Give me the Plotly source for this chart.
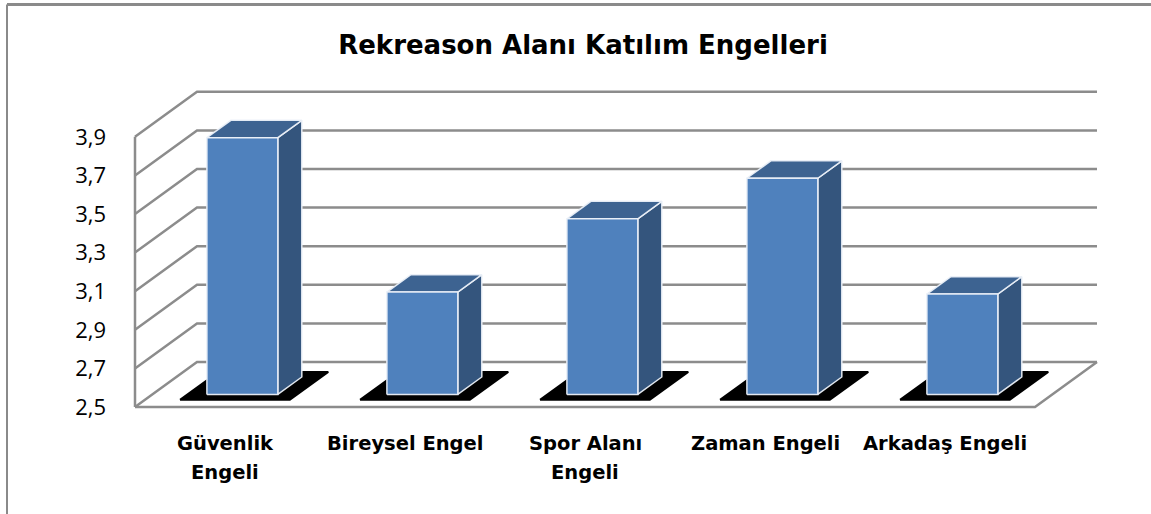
import plotly.graph_objects as go

# ---------------- data ----------------
categories = ["Güvenlik\nEngeli", "Bireysel Engel", "Spor Alanı\nEngeli", "Zaman Engeli", "Arkadaş Engeli"]
values = [3.83, 3.03, 3.41, 3.62, 3.02]
tick_vals = [2.5, 2.7, 2.9, 3.1, 3.3, 3.5, 3.7, 3.9]
title_text = "Rekreason Alanı Katılım Engelleri"

# ---------------- geometry (pixel mapping of the oblique projection) ----------------
W, H = 1151, 514
PX_X = 180.0          # pixels per category
PX_Y = 193.0          # pixels per value unit
X0_PX = 225.0         # pixel x of category 0 on front plane
Y0_PX = 407.0         # pixel y of base value on front plane
BASE = tick_vals[0]
DX = 62.0 / PX_X      # depth offset (x units) at full depth
DY = 45.0 / PX_Y      # depth offset (value units) at full depth

L_PX, R_PX, T_PX, B_PX = 133, 1131, 60, 420
xmin = (L_PX - X0_PX) / PX_X
xmax = (R_PX - X0_PX) / PX_X
ymax = BASE + (Y0_PX - T_PX) / PX_Y
ymin = BASE + (Y0_PX - B_PX) / PX_Y

n = len(categories)
xl, xr = -0.5, n - 0.5
top = tick_vals[-1]

GRID = "#8c8c8c"
FRONT = "#4f81bd"
TOPC = "#3d6391"
SIDE = "#34557d"
EDGE = "rgba(235,240,248,0.95)"
FONT = "Open Sans"
BOLDFONT = "DejaVu Sans"

fig = go.Figure()

def poly(xs, ys, fill, line_color, lw):
    fig.add_trace(go.Scatter(x=xs + [xs[0]], y=ys + [ys[0]], mode="lines", fill="toself",
                             fillcolor=fill, line=dict(color=line_color, width=lw),
                             hoverinfo="skip", showlegend=False))

# back-wall gridlines with left-wall diagonals
gx, gy = [], []
for v in tick_vals:
    gx += [xl, xl + DX, xr + DX, None]
    gy += [v, v + DY, v + DY, None]
fig.add_trace(go.Scatter(x=gx, y=gy, mode="lines", line=dict(color=GRID, width=2.5),
                         hoverinfo="skip", showlegend=False))
# floor outline and left front edge
fx = [xl, xl, None, xl, xr, xr + DX]
fy = [top, BASE, None, BASE, BASE, BASE + DY]
fig.add_trace(go.Scatter(x=fx, y=fy, mode="lines", line=dict(color=GRID, width=2.5),
                         hoverinfo="skip", showlegend=False))

# shadows
s_f, s_b, s_w = 0.16, 0.78, 0.305
for i in range(n):
    xs = [i + s_f * DX - s_w, i + s_f * DX + s_w, i + s_b * DX + s_w, i + s_b * DX - s_w]
    ys = [BASE + s_f * DY, BASE + s_f * DY, BASE + s_b * DY, BASE + s_b * DY]
    poly(xs, ys, "black", "black", 2)

# bars
d_f, d_b, hw = 0.28, 0.667, 0.197
for i, v in enumerate(values):
    xf0, xf1 = i + d_f * DX - hw, i + d_f * DX + hw
    xb0, xb1 = i + d_b * DX - hw, i + d_b * DX + hw
    yf0, yf1 = BASE + d_f * DY, v + d_f * DY
    yb0, yb1 = BASE + d_b * DY, v + d_b * DY
    poly([xf1, xf1, xb1, xb1], [yf0, yf1, yb1, yb0], SIDE, EDGE, 1.5)
    poly([xf0, xf1, xb1, xb0], [yf1, yf1, yb1, yb1], TOPC, EDGE, 1.5)
    poly([xf0, xf1, xf1, xf0], [yf0, yf0, yf1, yf1], FRONT, EDGE, 1.5)

# category labels
LINE_GAP = 29
for i, c in enumerate(categories):
    for k, line in enumerate(c.split("\n")):
        fig.add_annotation(x=i, y=0, xref="x", yref="paper", text="<b>%s</b>" % line,
                           showarrow=False, yanchor="middle", xanchor="center",
                           yshift=-(23 + LINE_GAP * k),
                           font=dict(family=BOLDFONT, size=19.5, color="black"))

# chart border (paper coords from pixels): left and top edges visible in the frame
pw = R_PX - L_PX
ph = B_PX - T_PX
def px2paper_x(p):
    return (p - L_PX) / pw
def px2paper_y(p):
    return (B_PX - p) / ph
bx0, by0 = px2paper_x(7), px2paper_y(4.5)
fig.add_shape(type="line", xref="paper", yref="paper",
              x0=bx0, x1=px2paper_x(1160), y0=by0, y1=by0,
              line=dict(color="#8a8a8a", width=3), layer="above")
fig.add_shape(type="line", xref="paper", yref="paper",
              x0=bx0, x1=bx0, y0=by0, y1=px2paper_y(530),
              line=dict(color="#8a8a8a", width=2), layer="above")

fig.update_layout(
    width=W, height=H,
    margin=dict(l=L_PX, r=W - R_PX, t=T_PX, b=H - B_PX),
    paper_bgcolor="white", plot_bgcolor="white",
    separators=",.",
    title=dict(text="<b>%s</b>" % title_text, xref="container", yref="container",
               x=583 / W, y=1 - 45 / H, xanchor="center", yanchor="middle",
               font=dict(family=BOLDFONT, size=26, color="black")),
    xaxis=dict(range=[xmin, xmax], showgrid=False, zeroline=False, showticklabels=False,
               showline=False, ticks=""),
    yaxis=dict(range=[ymin, ymax], showgrid=False, zeroline=False, showline=False,
               tickvals=tick_vals, tickformat=".1f", ticks="",
               ticklabelstandoff=26,
               tickfont=dict(family=FONT, size=22, color="black")),
    showlegend=False,
)

fig.write_html("out.html", config={"displayModeBar": False},
               post_script="document.body.style.margin='0';document.body.style.overflow='hidden';")
